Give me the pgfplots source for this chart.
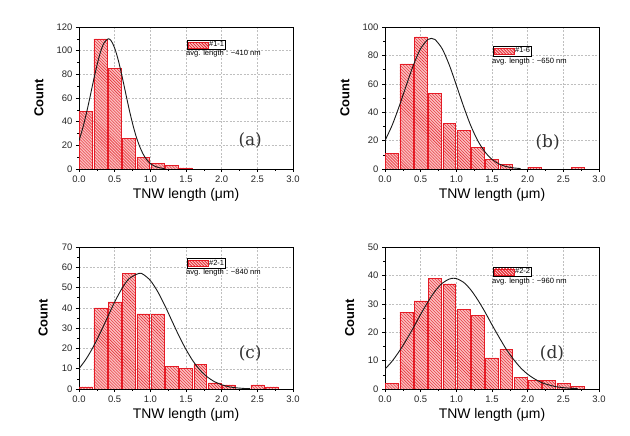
\documentclass[border=0pt]{standalone}
\usepackage{pgfplots}
\pgfplotsset{compat=1.18}
\usepackage{fontspec}
\setmainfont{Liberation Sans}
\newfontfamily\serifpanel{DejaVu Serif}
\usetikzlibrary{patterns}
\definecolor{barfill}{RGB}{250,190,190}
\definecolor{hatch}{RGB}{228,28,38}
\tikzset{
  avg/.style={anchor=west, font=\fontsize{7.6}{8}\selectfont, inner sep=0pt},
  panel/.style={font=\serifpanel\fontsize{17}{18}\selectfont, text=black!80},
}
\pgfplotsset{
  hist/.style={
    width=214bp,height=142bp,scale only axis,
    xmin=0,xmax=3,ymin=0,
    xtick={0,0.5,1,1.5,2,2.5,3},
    minor x tick num=1, minor y tick num=1,
    tick align=outside, tick pos=left,
    major tick length=3bp, minor tick length=1.8bp,
    grid=major,
    major grid style={gray!50, dash pattern=on 2bp off 1.5bp, line width=0.4bp},
    axis line style={line width=0.7bp},
    every tick/.style={black, line width=0.5bp},
    /pgf/number format/assume math mode=true,
    xticklabel style={/pgf/number format/.cd, fixed, fixed zerofill, precision=1},
    tick label style={font=\fontsize{9.5}{10}\selectfont, text=black!85},
    xlabel={TNW length (μm)}, ylabel={Count},
    xlabel style={font=\fontsize{14}{16}\selectfont, at={(axis description cs:0.5,-0.183)}, anchor=center},
    ylabel style={font=\bfseries\fontsize{13}{15}\selectfont, anchor=center},
    legend style={anchor=north west, draw=black, line width=0.5bp, inner sep=0.4bp,
      font=\fontsize{7.5}{7.5}\selectfont, legend cell align=left,
      nodes={inner sep=1bp}},
    legend image code/.code={\draw[fill=barfill, draw=hatch, line width=0.4bp, postaction={pattern=north west lines, pattern color=hatch}] (0bp,-3bp) rectangle (20bp,3bp);},
  },
  bars/.style={ybar, bar width=0.18, fill=barfill, draw=hatch, line width=0.5bp,
    postaction={pattern=north west lines, pattern color=hatch}},
  fit/.style={black!90, line width=0.9bp, smooth, forget plot},
}
\begin{document}
\begin{tikzpicture}
\useasboundingbox (0bp,0bp) rectangle (630bp,436bp);
% (a)
\begin{axis}[hist, at={(79bp,267bp)}, anchor=south west, ymax=120, ytick={0,20,...,120},
  ylabel style={at={(axis description cs:-0.187,0.5)}},
  legend style={at={(axis description cs:0.505,0.908)}}]
\addplot[bars] coordinates {(0.1,49) (0.3,110) (0.5,85) (0.7,26) (0.9,10) (1.1,5) (1.3,3) (1.5,1)};
\addlegendentry{\#1-1}
\addplot[fit] coordinates {(0,24.0) (0.05,34.0) (0.1,46.1) (0.15,59.6) (0.2,73.8) (0.25,87.2) (0.3,98.6) (0.35,106.5) (0.41,110) (0.45,108.4) (0.5,102.2) (0.55,92.1) (0.6,79.3) (0.65,65.3) (0.7,51.3) (0.75,38.6) (0.8,27.7) (0.85,19.1) (0.9,12.5) (0.95,7.8) (1.0,4.7) (1.05,2.7) (1.1,1.5) (1.15,0.77) (1.2,0.39)};
\node[avg] at (axis description cs:0.50,0.81) {avg. length : \textasciitilde410 nm};
\node[panel] at (axis description cs:0.80,0.20) {(a)};
\end{axis}
% (b)
\begin{axis}[hist, at={(385bp,267bp)}, anchor=south west, ymax=100, ytick={0,20,...,100},
  ylabel style={at={(axis description cs:-0.187,0.5)}},
  legend style={at={(axis description cs:0.505,0.866)}}]
\addplot[bars] coordinates {(0.1,11) (0.3,74) (0.5,93) (0.7,53) (0.9,32) (1.1,27) (1.3,15) (1.5,7) (1.7,3) (2.1,1) (2.7,1)};
\addlegendentry{\#1-6}
\addplot[fit] coordinates {(0,20.0) (0.1,30.8) (0.2,44.3) (0.3,59.1) (0.4,73.4) (0.5,84.8) (0.6,91.2) (0.65,92) (0.7,91.2) (0.8,84.8) (0.9,73.4) (1.0,59.1) (1.1,44.3) (1.2,30.8) (1.3,20.0) (1.4,12.1) (1.5,6.8) (1.6,3.5) (1.7,1.7) (1.8,0.77) (1.9,0.33)};
\node[avg] at (axis description cs:0.50,0.76) {avg. length : \textasciitilde650 nm};
\node[panel] at (axis description cs:0.76,0.19) {(b)};
\end{axis}
% (c)
\begin{axis}[hist, at={(79bp,47bp)}, anchor=south west, ymax=70, ytick={0,10,...,70},
  ylabel style={at={(axis description cs:-0.168,0.5)}},
  legend style={at={(axis description cs:0.505,0.92)}}]
\addplot[bars] coordinates {(0.1,1) (0.3,40) (0.5,43) (0.7,57) (0.9,37) (1.1,37) (1.3,11) (1.5,10) (1.7,12) (1.9,3) (2.1,2) (2.5,2) (2.7,1)};
\addlegendentry{\#2-1}
\addplot[fit] coordinates {(0,10.0) (0.1,14.8) (0.2,20.8) (0.3,27.8) (0.4,35.4) (0.5,42.9) (0.6,49.4) (0.7,54.3) (0.84,57) (0.9,56.5) (1.0,53.5) (1.1,48.2) (1.2,41.4) (1.3,33.8) (1.4,26.3) (1.5,19.5) (1.6,13.7) (1.7,9.2) (1.8,5.9) (1.9,3.6) (2.0,2.1) (2.1,1.1) (2.2,0.6) (2.3,0.3) (2.4,0.14)};
\node[avg] at (axis description cs:0.50,0.82) {avg. length : \textasciitilde840 nm};
\node[panel] at (axis description cs:0.80,0.25) {(c)};
\end{axis}
% (d)
\begin{axis}[hist, at={(385bp,47bp)}, anchor=south west, ymax=50, ytick={0,10,...,50},
  ylabel style={at={(axis description cs:-0.165,0.5)}},
  legend style={at={(axis description cs:0.505,0.86)}}]
\addplot[bars] coordinates {(0.1,2) (0.3,27) (0.5,31) (0.7,39) (0.9,37) (1.1,28) (1.3,26) (1.5,11) (1.7,14) (1.9,4) (2.1,3) (2.3,3) (2.5,2) (2.7,1)};
\addlegendentry{\#2-2}
\addplot[fit] coordinates {(0,7.0) (0.1,9.8) (0.2,13.3) (0.3,17.3) (0.4,21.7) (0.5,26.3) (0.6,30.6) (0.7,34.4) (0.8,37.2) (0.9,38.7) (0.96,39) (1.0,38.9) (1.1,37.6) (1.2,35.0) (1.3,31.4) (1.4,27.2) (1.5,22.6) (1.6,18.2) (1.7,14.0) (1.8,10.5) (1.9,7.5) (2.0,5.2) (2.1,3.5) (2.2,2.2) (2.3,1.4) (2.4,0.8) (2.5,0.47) (2.6,0.26) (2.7,0.14)};
\node[avg] at (axis description cs:0.50,0.76) {avg. length : \textasciitilde960 nm};
\node[panel] at (axis description cs:0.78,0.25) {(d)};
\end{axis}
\end{tikzpicture}
\end{document}
